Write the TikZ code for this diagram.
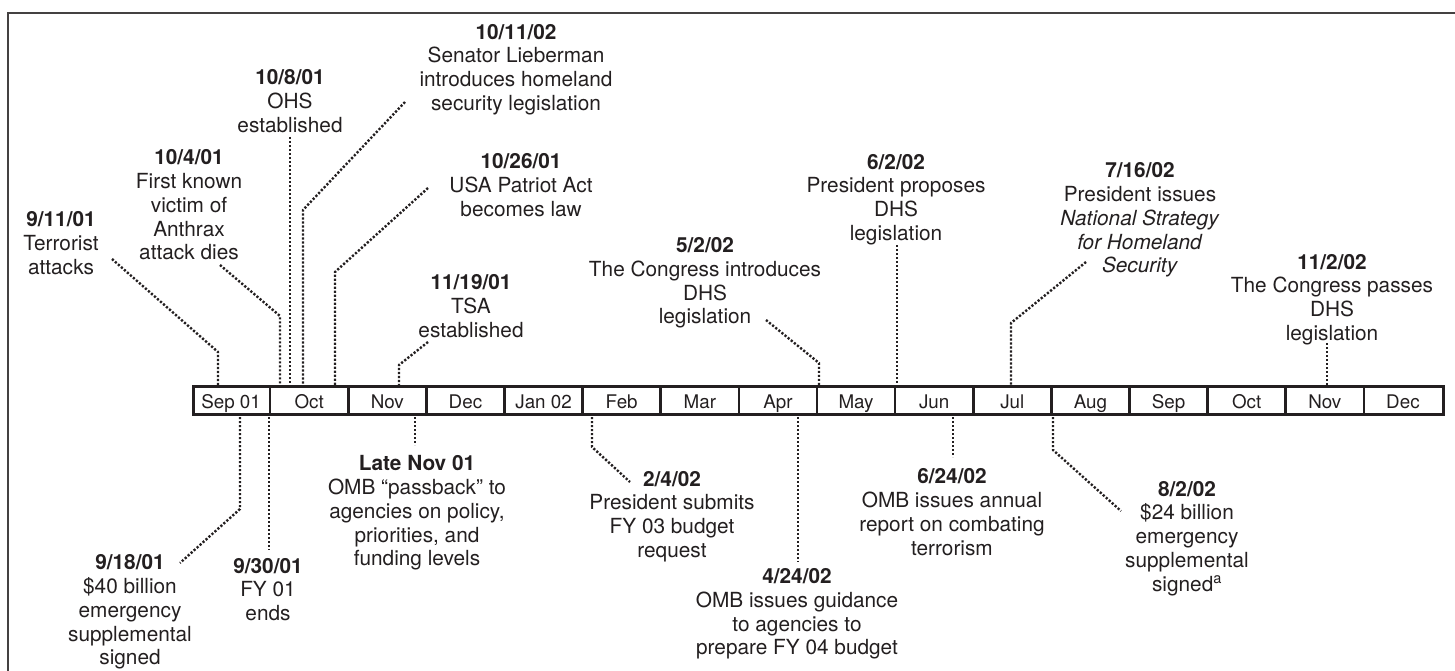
\documentclass[tikz,border=0pt]{standalone}
\usepackage{fontspec}
\setmainfont{TeX Gyre Heros}
\definecolor{ink}{HTML}{231F20}
\begin{document}
\begin{tikzpicture}[x=1pt,y=-1pt,
  lbl/.style={align=center, inner sep=0pt, text=ink, font=\fontsize{20.8}{23.8}\selectfont},
  month/.style={anchor=base, inner sep=0pt, text=ink, font=\fontsize{18.8}{20}\selectfont},
  dotline/.style={draw=ink, line width=2.4pt, dash pattern=on 2.2pt off 1.8pt},
  barline/.style={draw=ink, line width=2.6pt},
  frame/.style={draw=ink!85, line width=1.2pt}]
\useasboundingbox (0,0) rectangle (1455,671);
% frame
\draw[frame] (1455,13) -- (8,13) -- (8,671);
% timeline bar
\node[barline, minimum width=1250pt, minimum height=28pt, inner sep=0pt, anchor=north west] (bar) at (192,385) {};
\foreach \i in {1,...,15} \draw[barline] (192+\i*78.125,385) -- (192+\i*78.125,413);
\foreach \m [count=\i] in {Sep 01,Oct,Nov,Dec,Jan 02,Feb,Mar,Apr,May,Jun,Jul,Aug,Sep,Oct,Nov,Dec}
  \node[month] (m\i) at (192+\i*78.125-39.06,408.5) {\m};
% labels above
\node[lbl] (l1) at (61,243) {\textbf{9/11/01}\\Terrorist\\attacks};
\node[lbl] (l2) at (189,205) {\textbf{10/4/01}\\First known\\victim of\\Anthrax\\attack dies};
\node[lbl] (l3) at (290,101) {\textbf{10/8/01}\\OHS\\established};
\node[lbl] (l4) at (516,69.5) {\textbf{10/11/02}\\Senator Lieberman\\introduces homeland\\security legislation};
\node[lbl] (l5) at (521,185) {\textbf{10/26/01}\\USA Patriot Act\\becomes law};
\node[lbl] (l6) at (471,306) {\textbf{11/19/01}\\TSA\\established};
\node[lbl] (l7) at (705,283) {\textbf{5/2/02}\\The Congress introduces\\DHS\\legislation};
\node[lbl] (l8) at (896,199.5) {\textbf{6/2/02}\\President proposes\\DHS\\legislation};
\node[lbl] (l9) at (1140,220) {\textbf{7/16/02}\\President issues\\\textit{National Strategy}\\\textit{for Homeland}\\\textit{Security}};
\node[lbl] (l10) at (1332,299.5) {\textbf{11/2/02}\\The Congress passes\\DHS\\legislation};
% labels below
\node[lbl] (l11) at (130,612) {\textbf{9/18/01}\\\$40 billion\\emergency\\supplemental\\signed};
\node[lbl] (l12) at (268,589.5) {\textbf{9/30/01}\\FY 01\\ends};
\node[lbl] (l13) at (417,513) {\textbf{Late Nov 01}\\OMB “passback” to\\agencies on policy,\\priorities, and\\funding levels};
\node[lbl] (l14) at (672,516.5) {\textbf{2/4/02}\\President submits\\FY 03 budget\\request};
\node[lbl] (l15) at (797,614) {\textbf{4/24/02}\\OMB issues guidance\\to agencies to\\prepare FY 04 budget};
\node[lbl] (l16) at (952,512) {\textbf{6/24/02}\\OMB issues annual\\report on combating\\terrorism};
\node[lbl] (l17) at (1187,538.5) {\textbf{8/2/02}\\\$24 billion\\emergency\\supplemental\\signed\textsuperscript{a}};
% connector end points
\coordinate (s1) at (112,259);  \coordinate (k1) at (218,352);  \coordinate (b1) at (218,385);
\coordinate (s2) at (220,265);  \coordinate (k2) at (280,316);  \coordinate (b2) at (280,385);
\coordinate (s3) at (290,137);  \coordinate (b3) at (290,385);
\coordinate (s4) at (405,102);  \coordinate (k4) at (303,210);  \coordinate (b4) at (303,385);
\coordinate (s5) at (428,188);  \coordinate (k5) at (335,272);  \coordinate (b5) at (335,385);
\coordinate (s6) at (428,342);  \coordinate (k6) at (399,365);  \coordinate (b6) at (399,385);
\coordinate (s7) at (766,320);  \coordinate (k7) at (819,363);  \coordinate (b7) at (819,385);
\coordinate (s8) at (897,245);  \coordinate (b8) at (897,385);
\coordinate (s9) at (1086,262); \coordinate (k9) at (1011,323); \coordinate (b9) at (1011,385);
\coordinate (s10) at (1327,343); \coordinate (b10) at (1327,385);
\coordinate (s11) at (180,563); \coordinate (k11) at (240,509); \coordinate (b11) at (240,413);
\coordinate (s12) at (269,550); \coordinate (b12) at (269,413);
\coordinate (s13) at (415,445); \coordinate (b13) at (415,413);
\coordinate (s14) at (630,482); \coordinate (k14) at (592,447); \coordinate (b14) at (592,413);
\coordinate (s15) at (798,562); \coordinate (b15) at (798,413);
\coordinate (s16) at (953,457); \coordinate (b16) at (953,413);
\coordinate (s17) at (1121,511); \coordinate (k17) at (1053,450); \coordinate (b17) at (1053,413);
% connectors
\draw[dotline] (s1) -- (k1) -- (b1);
\draw[dotline] (s2) -- (k2) -- (b2);
\draw[dotline] (s3) -- (b3);
\draw[dotline] (s4) -- (k4) -- (b4);
\draw[dotline] (s5) -- (k5) -- (b5);
\draw[dotline] (s6) -- (k6) -- (b6);
\draw[dotline] (s7) -- (k7) -- (b7);
\draw[dotline] (s8) -- (b8);
\draw[dotline] (s9) -- (k9) -- (b9);
\draw[dotline] (s10) -- (b10);
\draw[dotline] (b11) -- (k11) -- (s11);
\draw[dotline] (b12) -- (s12);
\draw[dotline] (b13) -- (s13);
\draw[dotline] (b14) -- (k14) -- (s14);
\draw[dotline] (b15) -- (s15);
\draw[dotline] (b16) -- (s16);
\draw[dotline] (b17) -- (k17) -- (s17);
\end{tikzpicture}
\end{document}
